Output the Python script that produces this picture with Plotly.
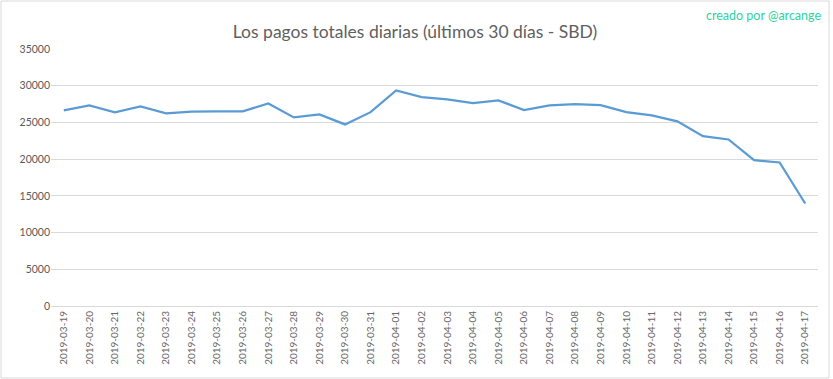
import plotly.graph_objects as go

dates = ["2019-03-19", "2019-03-20", "2019-03-21", "2019-03-22", "2019-03-23", "2019-03-24",
         "2019-03-25", "2019-03-26", "2019-03-27", "2019-03-28", "2019-03-29", "2019-03-30",
         "2019-03-31", "2019-04-01", "2019-04-02", "2019-04-03", "2019-04-04", "2019-04-05",
         "2019-04-06", "2019-04-07", "2019-04-08", "2019-04-09", "2019-04-10", "2019-04-11",
         "2019-04-12", "2019-04-13", "2019-04-14", "2019-04-15", "2019-04-16", "2019-04-17"]
payouts = [26630, 27310, 26360, 27180, 26230, 26460,
           26500, 26500, 27590, 25680, 26090, 24730,
           26400, 29360, 28450, 28130, 27630, 28000,
           26680, 27310, 27500, 27360, 26400, 25950,
           25140, 23130, 22680, 19860, 19550, 13960]
y_ticks = [0, 5000, 10000, 15000, 20000, 25000, 30000, 35000]

W, H = 833, 379
ml, mr, mt, mb = 51, 15, 49, 73
pw, ph = W - ml - mr, H - mt - mb

fig = go.Figure()
fig.add_trace(go.Scatter(x=dates, y=payouts, mode="lines",
                         line=dict(color="#5B9BD5", width=2.25), hoverinfo="x+y"))

fig.update_layout(
    width=W, height=H,
    margin=dict(l=ml, r=mr, t=mt, b=mb),
    paper_bgcolor="white", plot_bgcolor="white",
    showlegend=False,
    font=dict(family="Lato, Open Sans, sans-serif", color="#595959"),
    title=dict(text="Los pagos totales diarias (últimos 30 días - SBD)",
               x=415 / W, xref="container", xanchor="center", y=1 - 32 / H, yanchor="middle",
               font=dict(size=17.5, color="#5f5f5f", family="Lato, Open Sans, sans-serif")),
    xaxis=dict(type="category", range=[-0.5, len(dates) - 0.5], tickangle=-90,
               showgrid=False, showline=True, linecolor="#D9D9D9", linewidth=1,
               ticks="", tickfont=dict(size=10, color="#666666"), zeroline=False),
    yaxis=dict(range=[0, 35000], tickvals=y_ticks, ticktext=[str(v) for v in y_ticks],
               showgrid=True, gridcolor="#D9D9D9", gridwidth=1, zeroline=False,
               showline=False, ticks="", tickfont=dict(size=10.5, color="#595959")),
    annotations=[dict(text="creado por @arcange", xref="paper", yref="paper",
                      x=(823 - ml) / pw, y=(H - mb - 15) / ph, xanchor="right", yanchor="middle",
                      showarrow=False, font=dict(size=12.5, color="#2BD3A6",
                                                 family="Lato, Open Sans, sans-serif"))],
    shapes=[dict(type="rect", xref="paper", yref="paper",
                 x0=(1 - ml) / pw, x1=(829 - ml) / pw,
                 y0=(H - mb - 378) / ph, y1=(H - mb - 1) / ph,
                 line=dict(color="#D9D9D9", width=1), fillcolor="rgba(0,0,0,0)", layer="below")],
)

fig.write_html("out.html", config={"displayModeBar": False},
               post_script="document.body.style.margin='0';document.body.style.overflow='hidden';")
